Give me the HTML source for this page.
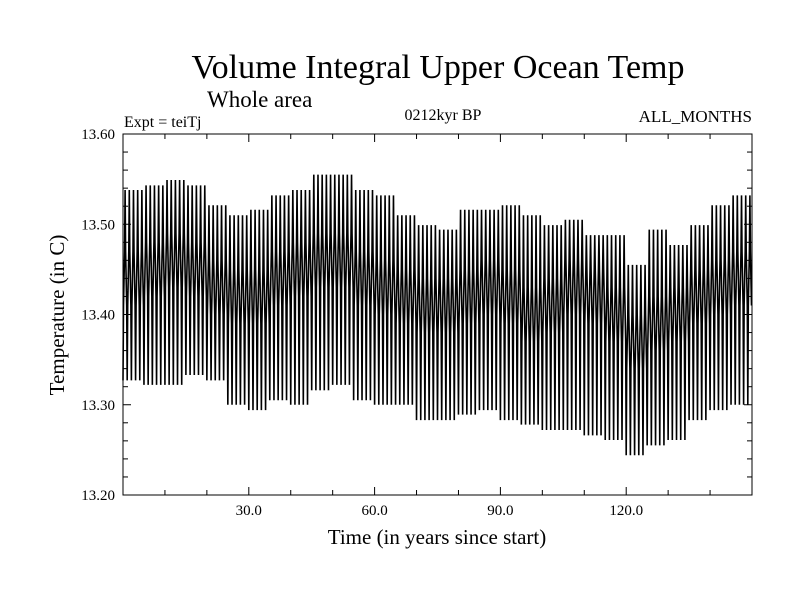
<!DOCTYPE html>
<html><head><meta charset="utf-8"><style>
body{margin:0;background:#fff}
svg text{font-family:"Liberation Serif",serif;fill:#000}
</style></head><body>
<svg id="c" width="800" height="600">
<rect width="800" height="600" fill="#fff"/>
<text x="438" y="78" font-size="34" text-anchor="middle">Volume Integral Upper Ocean Temp</text>
<text x="207" y="107" font-size="23">Whole area</text>
<text x="124" y="127" font-size="16">Expt = teiTj</text>
<text x="443" y="120" font-size="16" text-anchor="middle">0212kyr BP</text>
<text x="752" y="122" font-size="17" text-anchor="end">ALL_MONTHS</text>
<text x="437" y="544" font-size="21" text-anchor="middle">Time (in years since start)</text>
<text transform="translate(64,315) rotate(-90)" font-size="21" text-anchor="middle">Temperature (in C)</text>
<g id="plot"></g>
</svg>
<script>
const blockYears=[0,5,10,15,20,25,30,35,40,45,50,55,60,65,70,75,80,85,90,95,100,105,110,115,120,125,130,135,140,145];
const blockMax=[13.538,13.543,13.549,13.543,13.521,13.510,13.516,13.532,13.538,13.555,13.555,13.538,13.532,13.510,13.499,13.494,13.516,13.516,13.521,13.510,13.499,13.505,13.488,13.488,13.455,13.494,13.477,13.499,13.521,13.532];
const blockMin=[13.327,13.322,13.322,13.333,13.327,13.300,13.294,13.305,13.300,13.316,13.322,13.305,13.300,13.300,13.283,13.283,13.289,13.294,13.283,13.278,13.272,13.272,13.266,13.261,13.244,13.255,13.261,13.283,13.294,13.300];
const blockMean=[13.44,13.45,13.46,13.45,13.43,13.42,13.42,13.44,13.45,13.46,13.46,13.44,13.43,13.42,13.41,13.41,13.42,13.43,13.42,13.40,13.41,13.43,13.42,13.40,13.37,13.39,13.40,13.42,13.43,13.44];
const xTicks=[30,60,90,120];
const xTickLabels=["30.0","60.0","90.0","120.0"];
const yTicks=[13.2,13.3,13.4,13.5,13.6];
const yTickLabels=["13.20","13.30","13.40","13.50","13.60"];
const L=123,R=752,T=134,B=495,X0=0,X1=150,Y0=13.2,Y1=13.6;
const sx=v=>L+(v-X0)/(X1-X0)*(R-L);
const sy=v=>B-(v-Y0)/(Y1-Y0)*(B-T);
const NS='http://www.w3.org/2000/svg';
const g=document.getElementById('plot');
function mk(t,a){const e=document.createElementNS(NS,t);for(const k in a)e.setAttribute(k,a[k]);g.appendChild(e);return e;}
let pts=[];
function P(x,y){pts.push(sx(x).toFixed(2)+','+sy(y).toFixed(2));}
for(let i=0;i<blockYears.length;i++){
  for(let k=0;k<5;k++){
    const yr=blockYears[i]+k,m=blockMean[i];
    P(yr,blockMin[i]);
    P(yr+0.12,m-0.03);
    P(yr+0.38,m+0.03);
    P(yr+0.5,blockMax[i]);
    P(yr+0.62,m+0.03);
    P(yr+0.88,m-0.03);
  }
}
const line=mk('polyline',{points:pts.join(' '),fill:'none',stroke:'#000','stroke-width':1.6});


const fr=mk('rect',{x:L,y:T,width:R-L,height:B-T,fill:'none',stroke:'#000','stroke-width':1});


for(let v=10;v<150;v+=10){const x=sx(v),len=(v%30===0)?8:5;
  mk('line',{x1:x,y1:B,x2:x,y2:B-len,stroke:'#000'});mk('line',{x1:x,y1:T,x2:x,y2:T+len,stroke:'#000'});}
for(let j=1;j<20;j++){const v=Y0+j*0.02,y=sy(v),len=(j%5===0)?8:5;
  mk('line',{x1:L,y1:y,x2:L+len,y2:y,stroke:'#000'});mk('line',{x1:R,y1:y,x2:R-len,y2:y,stroke:'#000'});}
xTicks.forEach((v,i)=>{const t=mk('text',{x:sx(v),y:515,'font-size':15,'text-anchor':'middle'});t.textContent=xTickLabels[i];
  
  });
yTicks.forEach((v,i)=>{const t=mk('text',{x:115,y:sy(v)+5,'font-size':15,'text-anchor':'end'});t.textContent=yTickLabels[i];
  
  });
</script>
</body></html>
